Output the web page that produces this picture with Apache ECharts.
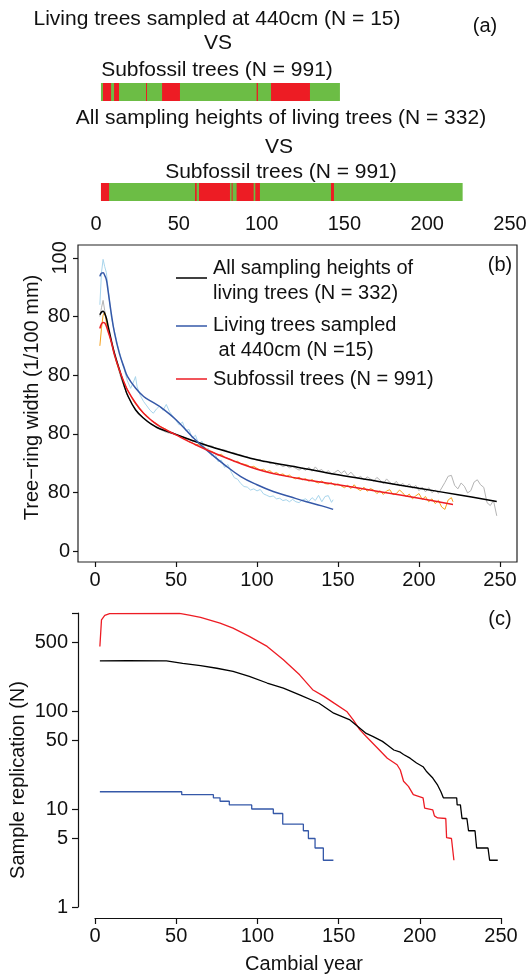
<!DOCTYPE html>
<html>
<head>
<meta charset="utf-8">
<script src="https://cdn.jsdelivr.net/npm/echarts@6/dist/echarts.min.js"></script>
<style>
  html, body { margin: 0; padding: 0; background: #fff; }
  #chart { width: 532px; height: 975px; }
</style>
</head>
<body>
<div id="chart"></div>
<script>
// (a) years where the two groups differ (red) over the covered span (green)
const bar1Range = [3, 147.3];
const bar1Red = [[4.2, 9.1], [10.9, 13.9], [30.2, 30.8], [39.9, 50.7], [97.0, 97.8], [105.7, 129.2]];
const bar2Range = [3, 221.4];
const bar2Red = [[3, 7.9], [59.8, 60.8], [62.2, 80.9], [81.9, 82.5], [84.9, 95.2], [96.2, 99.0], [141.9, 143.7]];

const xTicks = [0, 50, 100, 150, 200, 250];

// (b) tick labels as printed in the figure
const bTickValues = [0, 20, 40, 60, 80, 100];
const bTickLabels = ['0', '80', '80', '80', '80', '100'];

// (b) fitted curves [cambial year, width]
const allSmooth = [[3, 80.6], [4, 81.5], [5, 81.8], [6, 81], [7, 79.5], [8, 77], [10, 72], [12, 67.5], [15, 62],
  [18, 56.5], [20, 53.3], [25, 48.2], [30, 45.3], [35, 43.2], [40, 41.7], [50, 39.8], [60, 37.7], [75, 35],
  [100, 31.1], [125, 28.6], [150, 26], [175, 23.7], [200, 21.4], [225, 19.1], [248, 16.9]];
const living440Smooth = [[3, 93.7], [4, 94.8], [5, 94.9], [6, 94], [7, 92.6], [8, 89], [10, 81.2], [12, 74.5],
  [15, 67.5], [18, 62.5], [20, 59.6], [25, 55.6], [30, 52.7], [35, 51], [40, 49.3], [50, 44.8], [60, 39],
  [70, 33.9], [80, 29.4], [90, 25.4], [100, 22.6], [110, 20.3], [120, 18.6], [130, 16.9], [140, 15.4], [147, 14.2]];
const subfossilSmooth = [[3, 75.9], [4, 77.5], [5, 78], [6, 77.8], [7, 76.7], [8, 75], [10, 71.5], [12, 67],
  [15, 61.8], [18, 57.5], [20, 55], [25, 50.5], [30, 47], [35, 44.5], [40, 42.5], [50, 39.6], [60, 36.8],
  [75, 33.1], [100, 27.9], [125, 24.8], [150, 22.6], [175, 20.3], [200, 18], [221, 15.9]];

// (b) raw mean chronologies
const allRaw = [[3, 80], [4, 83], [5, 85.5], [6, 82], [7, 79], [8, 76], [10, 71], [12, 66.5], [14, 63], [16, 59],
  [18, 56], [20, 53], [22, 51], [24, 49], [26, 47.5], [28, 46.5], [30, 45.5], [32, 44.5], [34, 43.5], [36, 43],
  [38, 42], [40, 41.5], [42, 41], [44, 40.5], [46, 40.2], [48, 40], [50, 39.6], [52, 39.2], [54, 39], [56, 38.5],
  [58, 38.2], [60, 37.6], [62, 37.8], [64, 37], [66, 36.8], [68, 36.4], [70, 35.8], [72, 35.9], [74, 35.2],
  [76, 35], [78, 34.6], [80, 34.5], [82, 34], [84, 33.6], [86, 33.5], [88, 33], [90, 32.8], [92, 32.3],
  [94, 32.2], [96, 31.5], [98, 31.4], [100, 31], [102, 31.2], [104, 30.4], [106, 30.6], [108, 29.8], [110, 30.2],
  [112, 29.3], [114, 29.5], [116, 28.8], [118, 29.2], [120, 28.4], [122, 28.8], [124, 28.2], [126, 27.6],
  [128, 28.3], [130, 27.5], [132, 28.6], [134, 27.2], [136, 28.7], [138, 27.4], [140, 27.8], [142, 26.6],
  [144, 27.4], [146, 26.3], [148, 26.8], [150, 27.6], [152, 26.5], [154, 27.4], [156, 25.8], [158, 26.9],
  [160, 25.6], [162, 24.8], [164, 25.5], [166, 24.2], [168, 25.3], [170, 24.6], [172, 23.8], [174, 25.1],
  [176, 24.2], [178, 22.9], [180, 24.6], [182, 23.4], [184, 22.6], [186, 23.8], [188, 22.2], [190, 23.1],
  [192, 21.8], [194, 22.9], [196, 21.4], [198, 22.4], [200, 20.6], [202, 21.8], [204, 20.2], [206, 21.6],
  [208, 19.9], [210, 20.8], [212, 19.7], [214, 21.5], [216, 23.4], [218, 25.5], [220, 25.8], [222, 22.4],
  [224, 21.2], [226, 23.2], [228, 22.1], [230, 19.8], [232, 20.6], [234, 23.5], [236, 24.3], [238, 22.6],
  [240, 21.7], [242, 16.5], [244, 15.5], [246, 17.2], [248, 12]];
const living440Raw = [[3, 84], [4, 95], [5, 99.5], [6, 97], [7, 95], [8, 90], [9, 85], [10, 80], [12, 75], [14, 70],
  [16, 66], [18, 62], [20, 58], [22, 55.5], [24, 58], [25, 59.5], [26, 56], [28, 53], [30, 51], [32, 49.5],
  [34, 48], [36, 47], [38, 48.5], [40, 49.5], [42, 48], [44, 50], [46, 47.5], [48, 46], [50, 44.5], [52, 43],
  [54, 44], [56, 41], [58, 41.5], [60, 38.5], [62, 39.5], [64, 36.5], [66, 37.5], [68, 34.5], [70, 35],
  [72, 32.5], [74, 33.5], [76, 30.5], [78, 31], [80, 28.5], [82, 29.5], [84, 27], [86, 25], [88, 24.5], [90, 23],
  [92, 22], [94, 21.8], [96, 20.8], [98, 21.2], [100, 20.5], [102, 21], [104, 19.5], [106, 19], [108, 18.5],
  [110, 18.8], [112, 17.8], [114, 18], [116, 17.2], [118, 17.5], [120, 16.8], [122, 17.6], [124, 16.8],
  [126, 16.5], [128, 17.4], [130, 17.8], [132, 16.9], [134, 18.2], [136, 17.2], [138, 19], [140, 16.8],
  [142, 18.6], [144, 18.9], [146, 16.6], [147, 17.5]];
const subfossilRaw = [[3, 70], [4, 76], [5, 80.5], [6, 81.5], [7, 78], [8, 75.5], [10, 71.5], [12, 67], [14, 63],
  [16, 60], [18, 57.5], [20, 55], [22, 53], [24, 51], [26, 49.5], [28, 48], [30, 47], [32, 46.2], [34, 45],
  [36, 44], [38, 43.5], [40, 42.5], [42, 42], [44, 41.5], [46, 40.6], [48, 40.2], [50, 39.6], [52, 39.4],
  [54, 38.5], [56, 38.2], [58, 37.2], [60, 37], [62, 36.2], [64, 36.4], [66, 35.5], [68, 35.2], [70, 34.2],
  [72, 34], [74, 33.4], [76, 32.6], [78, 33], [80, 32], [82, 31.6], [84, 31.2], [86, 30.5], [88, 30.6],
  [90, 29.8], [92, 29.6], [94, 29.3], [96, 28.6], [98, 28.9], [100, 28.2], [102, 27.6], [104, 27.9], [106, 27.1],
  [108, 27.4], [110, 26.4], [112, 26.8], [114, 26], [116, 26.3], [118, 25.5], [120, 25.9], [122, 25], [124, 24.6],
  [126, 25.2], [128, 24.3], [130, 24.7], [132, 23.8], [134, 24.4], [136, 23.6], [138, 23.2], [140, 23.9],
  [142, 23], [144, 22.8], [146, 23.3], [148, 22.4], [150, 22.9], [152, 22.2], [154, 21.6], [156, 22.4],
  [158, 21.3], [160, 22.6], [162, 21.2], [164, 20.6], [166, 21.8], [168, 20.4], [170, 21.3], [172, 20.8],
  [174, 19.6], [176, 20.6], [178, 19.3], [180, 20.5], [182, 20.9], [184, 19.2], [186, 19.6], [188, 20.8],
  [190, 19.8], [192, 18.5], [194, 19.4], [196, 17.8], [198, 18.8], [200, 19.6], [202, 17.6], [204, 18.6],
  [206, 16.8], [208, 17.8], [210, 16.2], [212, 17.3], [214, 15], [216, 14.2], [218, 17.4], [220, 18.2], [221, 16.8]];

// (c) sample replication
const cLabelValues = [1, 5, 10, 50, 100, 500];
const cTickValues = [1, 5, 10, 50, 100, 500, 1000];
const subfossilN = [[3, 456], [4, 853], [6, 944], [9, 985], [52, 990], [58, 950], [65, 904], [77, 790], [85, 700],
  [95, 578], [106, 456], [116, 334], [126, 234], [134, 165], [141, 141], [147, 121], [155, 99], [159, 81],
  [163, 64.5], [167, 55], [173, 43.5], [180, 33], [186, 28.3], [188, 25], [190, 19.2], [193, 17], [196, 14],
  [202, 13], [203, 10.2], [208, 9.8], [209, 8.5], [211, 8.1], [216, 8], [216.5, 5.1], [219.5, 5], [221, 3]];
const allN = [[3, 325], [20, 327], [44, 325], [54, 306], [65, 290], [75, 273], [85, 254], [95, 226], [106, 193],
  [116, 171], [126, 146], [138, 120], [147, 95], [157, 81], [167, 59], [171, 55], [177, 49], [180, 45], [184, 40],
  [188, 38], [190, 36], [194, 33], [198, 29.5], [202, 27], [204, 24.3], [208, 20.7], [211, 17.5], [213, 15],
  [214.5, 13], [222.7, 13], [223, 11], [225, 11], [226, 8], [229, 8], [230, 6], [234, 6], [235, 4], [242, 4],
  [243, 3], [248, 3]];
const living440N = [[3, 15], [53.4, 14], [72.9, 13], [77, 12], [82.7, 11], [96.5, 10], [109.8, 9], [115.6, 7],
  [128.3, 6], [131.4, 5], [135.5, 4], [140.6, 3], [146.8, 3]];

const FONT = '"Liberation Sans", Arial, Helvetica, sans-serif';
const INK = '#111';
const RED = '#ed1c24';
const GREEN = '#6cbd45';

function segData(range, reds) {
  return [[range[0], range[1], 0]].concat(reds.map(r => [r[0], r[1], 1]));
}

function renderSeg(params, api) {
  const s = api.coord([api.value(0), 0]);
  const e = api.coord([api.value(1), 0]);
  const h = api.size([0, 1])[1];
  return {
    type: 'rect',
    shape: { x: s[0], y: s[1] - h / 2, width: Math.max(e[0] - s[0], 1), height: h },
    style: { fill: api.value(2) ? RED : GREEN }
  };
}

const label = { fontFamily: FONT, fontSize: 20, color: INK };
const noAxis = { show: false };

function txt(text, x, y, size, align) {
  return {
    type: 'text', x: x, y: y,
    style: { text: text, font: (size || 21) + 'px ' + FONT, fill: INK, align: align || 'center', verticalAlign: 'middle' }
  };
}

const chart = echarts.init(document.getElementById('chart'), null, { renderer: 'canvas' });

chart.setOption({
  animation: false,
  backgroundColor: '#fff',
  grid: [
    { left: 96, top: 83, width: 414, height: 18 },
    { left: 96, top: 183, width: 414, height: 18 },
    { left: 78, top: 245, width: 439, height: 317, show: true, borderColor: '#222', borderWidth: 1.2 },
    { left: 95, top: 613, width: 406, height: 294 }
  ],
  xAxis: [
    { gridIndex: 0, type: 'value', min: 0, max: 250, show: false },
    {
      gridIndex: 1, type: 'value', min: 0, max: 250, offset: 8, splitLine: noAxis,
      axisLine: { onZero: false, lineStyle: { color: INK, width: 1.2 } },
      axisTick: { length: 5, lineStyle: { color: INK, width: 1.2 }, customValues: xTicks },
      axisLabel: Object.assign({ margin: 5, customValues: xTicks }, label)
    },
    {
      gridIndex: 2, type: 'value', min: -10.5, max: 260.5, splitLine: noAxis, axisLine: { show: false, onZero: false },
      axisTick: { length: 5, lineStyle: { color: INK, width: 1.2 }, customValues: xTicks },
      axisLabel: Object.assign({ margin: 8, customValues: xTicks }, label)
    },
    {
      gridIndex: 3, type: 'value', min: 0, max: 250, offset: 11, splitLine: noAxis,
      axisLine: { onZero: false, lineStyle: { color: INK, width: 1.2 } },
      axisTick: { length: 6, lineStyle: { color: INK, width: 1.2 }, customValues: xTicks },
      axisLabel: Object.assign({ margin: 8, customValues: xTicks }, label),
      name: 'Cambial year', nameLocation: 'middle', nameGap: 36, nameMoveOverlap: false,
      nameTextStyle: { fontFamily: FONT, fontSize: 20, color: INK, padding: [0, 0, 0, 12] }
    }
  ],
  yAxis: [
    { gridIndex: 0, type: 'category', data: ['a1'], show: false },
    { gridIndex: 1, type: 'category', data: ['a2'], show: false },
    {
      gridIndex: 2, type: 'value', position: 'left', min: -3.75, max: 104.4, splitLine: noAxis,
      axisLine: { show: false, onZero: false },
      axisTick: { length: 5, lineStyle: { color: INK, width: 1.2 }, customValues: bTickValues },
      axisLabel: Object.assign({
        margin: 8, customValues: bTickValues.slice(0, 5),
        formatter: v => bTickLabels[bTickValues.indexOf(v)]
      }, label),
      name: 'Tree\u2212ring width (1/100 mm)', nameLocation: 'middle', nameGap: 36, nameMoveOverlap: false,
      nameTextStyle: { fontFamily: FONT, fontSize: 20, color: INK, padding: [0, 0, 0, 12] }
    },
    {
      gridIndex: 2, type: 'value', position: 'left', min: -3.75, max: 104.4,
      splitLine: noAxis, axisLine: { show: false, onZero: false }, axisTick: noAxis,
      axisLabel: Object.assign({
        margin: 8, rotate: 90, customValues: [100],
        formatter: v => bTickLabels[bTickValues.indexOf(v)]
      }, label)
    },
    {
      gridIndex: 3, type: 'log', logBase: 10, min: 1, max: 1000, offset: 17, splitLine: noAxis,
      axisLine: { onZero: false, lineStyle: { color: INK, width: 1.2 } },
      axisTick: { length: 6, lineStyle: { color: INK, width: 1.2 }, customValues: cTickValues },
      axisLabel: Object.assign({ margin: 10, customValues: cLabelValues }, label),
      name: 'Sample replication (N)', nameLocation: 'middle', nameGap: 50, nameMoveOverlap: false,
      nameTextStyle: { fontFamily: FONT, fontSize: 20, color: INK, padding: [0, 40, 0, 0] }
    }
  ],
  series: [
    { type: 'custom', xAxisIndex: 0, yAxisIndex: 0, renderItem: renderSeg, encode: { x: [0, 1] }, data: segData(bar1Range, bar1Red) },
    { type: 'custom', xAxisIndex: 1, yAxisIndex: 1, renderItem: renderSeg, encode: { x: [0, 1] }, data: segData(bar2Range, bar2Red) },

    { type: 'line', xAxisIndex: 2, yAxisIndex: 2, data: allRaw, symbol: 'none', lineStyle: { color: '#b4b4b4', width: 1 } },
    { type: 'line', xAxisIndex: 2, yAxisIndex: 2, data: living440Raw, symbol: 'none', lineStyle: { color: '#a8d5ec', width: 1 } },
    { type: 'line', xAxisIndex: 2, yAxisIndex: 2, data: subfossilRaw, symbol: 'none', lineStyle: { color: '#f6a01a', width: 1 } },
    { type: 'line', xAxisIndex: 2, yAxisIndex: 2, data: allSmooth, symbol: 'none', smooth: 0.4, lineStyle: { color: '#000', width: 1.5 } },
    { type: 'line', xAxisIndex: 2, yAxisIndex: 2, data: living440Smooth, symbol: 'none', smooth: 0.4, lineStyle: { color: '#3558a8', width: 1.5 } },
    { type: 'line', xAxisIndex: 2, yAxisIndex: 2, data: subfossilSmooth, symbol: 'none', smooth: 0.4, lineStyle: { color: RED, width: 1.5 } },

    { type: 'line', xAxisIndex: 3, yAxisIndex: 4, data: subfossilN, symbol: 'none', lineStyle: { color: RED, width: 1.3 } },
    { type: 'line', xAxisIndex: 3, yAxisIndex: 4, data: allN, symbol: 'none', lineStyle: { color: '#000', width: 1.3 } },
    { type: 'line', xAxisIndex: 3, yAxisIndex: 4, data: living440N, symbol: 'none', step: 'end', lineStyle: { color: '#3558a8', width: 1.3 } }
  ],
  graphic: [
    txt('Living trees sampled at 440cm (N = 15)', 217, 19),
    txt('VS', 218, 43),
    txt('Subfossil trees (N = 991)', 217, 70),
    txt('(a)', 485, 26, 20),
    txt('All sampling heights of living trees (N = 332)', 281, 118),
    txt('VS', 279, 147),
    txt('Subfossil trees (N = 991)', 281, 172),
    txt('(b)', 500, 265, 20),
    txt('(c)', 500, 619, 20),
    // legend of (b)
    { type: 'line', shape: { x1: 176, y1: 278, x2: 207, y2: 278 }, style: { stroke: '#000', lineWidth: 1.5 } },
    { type: 'line', shape: { x1: 176, y1: 326, x2: 207, y2: 326 }, style: { stroke: '#3558a8', lineWidth: 1.5 } },
    { type: 'line', shape: { x1: 176, y1: 379, x2: 207, y2: 379 }, style: { stroke: RED, lineWidth: 1.5 } },
    txt('All sampling heights of', 213, 268, 20, 'left'),
    txt('living trees (N = 332)', 213, 293, 20, 'left'),
    txt('Living trees sampled', 213, 325, 20, 'left'),
    txt(' at 440cm (N =15)', 213, 350, 20, 'left'),
    txt('Subfossil trees (N = 991)', 213, 379, 20, 'left')
  ]
});
</script>
</body>
</html>
